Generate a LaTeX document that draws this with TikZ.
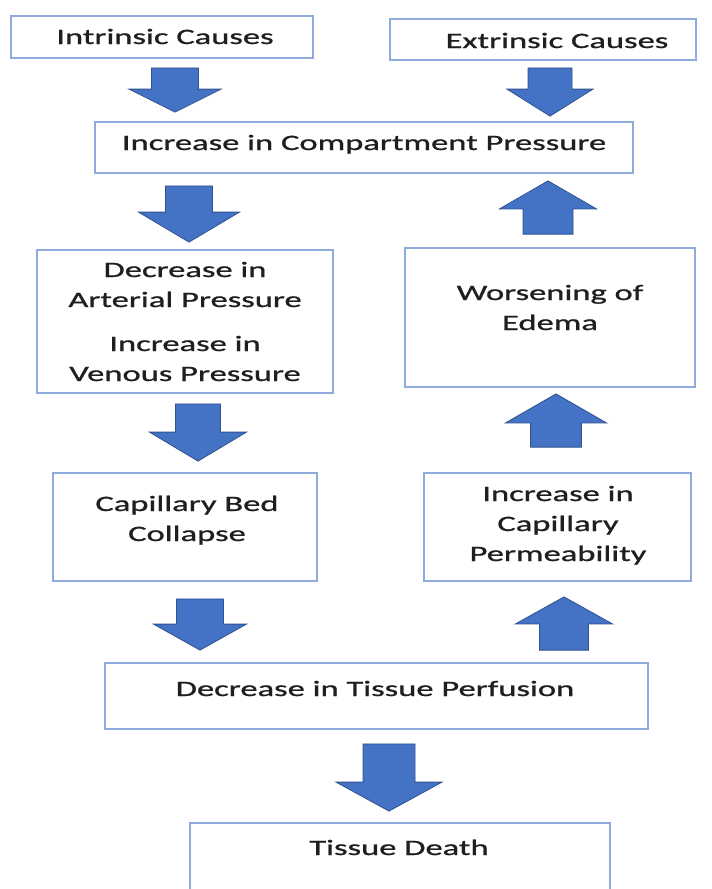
\documentclass[tikz,border=0pt]{standalone}
\usepackage{fontspec}
\setmainfont{Carlito}[FakeStretch=1.57,FakeBold=1]
\usetikzlibrary{calc}
\definecolor{boxline}{HTML}{8FAADC}
\definecolor{arrfill}{HTML}{4472C4}
\definecolor{arrline}{HTML}{2F528F}
\tikzset{
  box/.style={draw=boxline, line width=1.8pt, fill=white, inner sep=0pt},
  lbl/.style={font=\fontsize{22}{30}\selectfont, align=center, inner sep=0pt, text=black!88, anchor=base},
  barrow/.style={fill=arrfill, draw=arrline, line width=0.8pt, line join=miter}
}
\newcommand\blockarrow[5]{%
  \filldraw[barrow] ($(#1)+(-#3,0)$) -- ($(#1)+(#3,0)$) -- ($(#2)!#5!(#1)+(#3,0)$)
    -- ($(#2)!#5!(#1)+(#4,0)$) -- (#2) -- ($(#2)!#5!(#1)+(-#4,0)$)
    -- ($(#2)!#5!(#1)+(-#3,0)$) -- cycle;}
\begin{document}
\begin{tikzpicture}[x=1pt,y=-1pt]
\fill[white] (0,0) rectangle (712,889);
\useasboundingbox (0,0) rectangle (712,889);
% boxes
\node[box, minimum width=302pt, minimum height=42pt] (b1) at (162,37) {};
\node[box, minimum width=306pt, minimum height=41pt] (b2) at (543,39.5) {};
\node[box, minimum width=538pt, minimum height=51pt] (b3) at (364,147.5) {};
\node[box, minimum width=296pt, minimum height=143pt] (b4) at (185,321.5) {};
\node[box, minimum width=290pt, minimum height=139pt] (b5) at (550,317.5) {};
\node[box, minimum width=264pt, minimum height=108pt] (b6) at (185,527) {};
\node[box, minimum width=267pt, minimum height=108pt] (b7) at (557.5,527) {};
\node[box, minimum width=543pt, minimum height=66pt] (b8) at (376.5,696) {};
\node[box, minimum width=420pt, minimum height=77pt] (b9) at (400,861.5) {};
% texts (anchor = baseline of last line)
\node[lbl] (t1) at (165,44) {Intrinsic Causes};
\node[lbl] (t2) at (557,48) {Extrinsic Causes};
\node[lbl] (t3) at (364,150) {Increase in Compartment Pressure};
\node[lbl] (t4a) at (185,307) {Decrease in\\Arterial Pressure};
\node[lbl] (t4b) at (185,381) {Increase in\\Venous Pressure};
\node[lbl] (t5) at (550,330) {Worsening of\\Edema};
\node[lbl] (t6) at (187,541) {Capillary Bed\\Collapse};
\node[lbl] (t7) at (558,561) {Increase in\\Capillary\\Permeability};
\node[lbl] (t8) at (375,696) {Decrease in Tissue Perfusion};
\node[lbl] (t9) at (399,855) {Tissue Death};
% arrow end points
\coordinate (a1t) at ($(b1.south)+(13,9)$);
\coordinate (a1h) at ($(b3.north)+(-189,-9)$);
\coordinate (a2t) at ($(b2.south)+(7,7)$);
\coordinate (a2h) at ($(b3.north)+(186,-5)$);
\coordinate (a3t) at ($(b3.south)+(-175,12)$);
\coordinate (a3h) at ($(b4.north)+(4,-7)$);
\coordinate (a4t) at ($(b5.north)+(-2,-13)$);
\coordinate (a4h) at ($(b3.south)+(184,7)$);
\coordinate (a5t) at ($(b4.south)+(13,10)$);
\coordinate (a5h) at ($(b6.north)+(13,-11)$);
\coordinate (a6t) at ($(b7.north)+(-1.5,-25)$);
\coordinate (a6h) at ($(b5.south)+(6,6)$);
\coordinate (a7t) at ($(b6.south)+(15,17)$);
\coordinate (a7h) at ($(b8.north)+(-176.5,-12)$);
\coordinate (a8t) at ($(b8.north)+(187.5,-12)$);
\coordinate (a8h) at ($(b7.south)+(6.5,15)$);
\coordinate (a9t) at ($(b8.south)+(12.5,14)$);
\coordinate (a9h) at ($(b9.north)+(-11,-11)$);
% block arrows
\blockarrow{a1t}{a1h}{23.5}{46}{23pt}
\blockarrow{a2t}{a2h}{22}{43}{27pt}
\blockarrow{a3t}{a3h}{23.5}{50.5}{30pt}
\blockarrow{a4t}{a4h}{25}{48.5}{28pt}
\blockarrow{a5t}{a5h}{22.5}{48.5}{29pt}
\blockarrow{a6t}{a6h}{25.5}{50.5}{29pt}
\blockarrow{a7t}{a7h}{23.5}{46.5}{26pt}
\blockarrow{a8t}{a8h}{24.5}{48.5}{27pt}
\blockarrow{a9t}{a9h}{26}{53}{29pt}
\end{tikzpicture}
\end{document}
